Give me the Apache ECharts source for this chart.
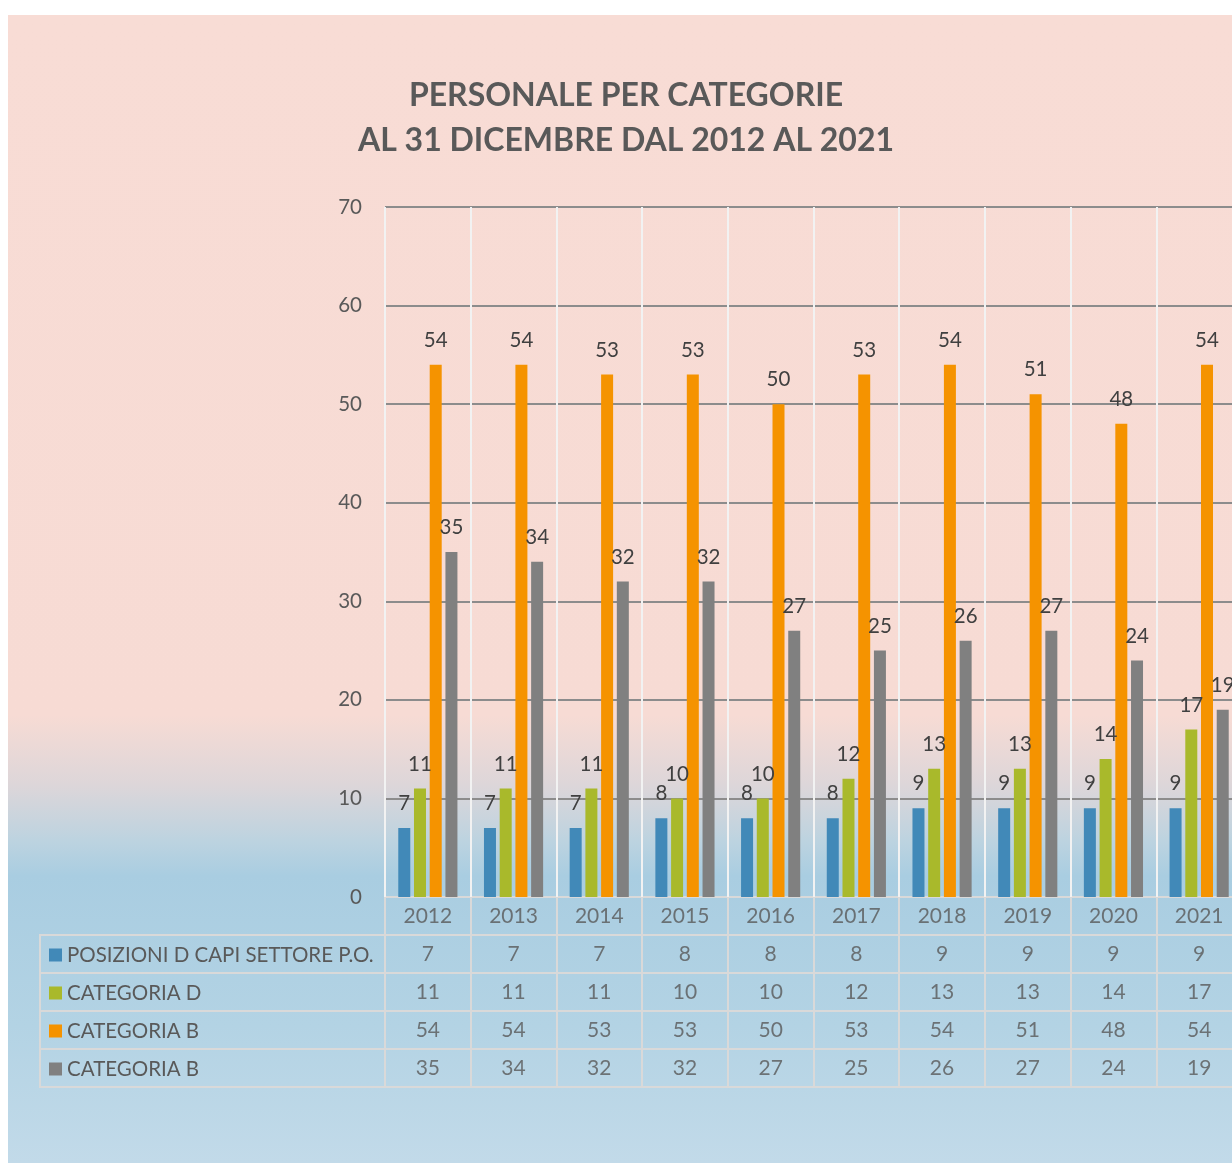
<!DOCTYPE html>
<html>
<head>
<meta charset="utf-8">
<script src="https://cdn.jsdelivr.net/npm/echarts@6/dist/echarts.min.js"></script>
<style>
  html, body { margin: 0; padding: 0; background: #ffffff; }
  #wrap { position: relative; width: 1232px; height: 1163px; overflow: hidden; }
  #panel {
    position: absolute; left: 8px; top: 15px; right: 0; bottom: 0;
    background: linear-gradient(to bottom, #f8dcd5 0%, #f7dbd4 61%, #ddd6d9 67%, #bcd3e0 72%, #a9cde1 75%, #b3d3e4 88%, #c2dae9 100%);
  }
  #chart { position: absolute; left: 0; top: 0; width: 1232px; height: 1163px; }
</style>
</head>
<body>
<div id="wrap">
  <div id="panel"></div>
  <div id="chart"></div>
</div>
<script>
// dati
var anni = ['2012', '2013', '2014', '2015', '2016', '2017', '2018', '2019', '2020', '2021']
var nomiSerie = ['POSIZIONI D CAPI SETTORE P.O.', 'CATEGORIA D', 'CATEGORIA B', 'CATEGORIA B ']
var posizioniD = [7, 7, 7, 8, 8, 8, 9, 9, 9, 9]
var categoriaD = [11, 11, 11, 10, 10, 12, 13, 13, 14, 17]
var categoriaB = [54, 54, 53, 53, 50, 53, 54, 51, 48, 54]
var categoriaB2 = [35, 34, 32, 32, 27, 25, 26, 27, 24, 19]
var colori = ['#4189b8', '#a9b92b', '#f59300', '#808080']
var righeTabella = ['anno', 'r1', 'r2', 'r3', 'r4']

var valori = [posizioniD, categoriaD, categoriaB, categoriaB2]
var font = 'Lato, "Open Sans", sans-serif'
var grigio = '#595959'

var chart = echarts.init(document.getElementById('chart'))

// celle della tabella dati (anni + valori)
var celle = []
anni.forEach(function (a, i) {
  celle.push([i, 0, a])
  valori.forEach(function (serie, s) {
    celle.push([i, s + 1, String(serie[i])])
  })
})

var barre = valori.map(function (serie, s) {
  return {
    name: nomiSerie[s],
    type: 'bar',
    xAxisIndex: 0,
    yAxisIndex: 0,
    barWidth: 12,
    barGap: '31%',
    itemStyle: { color: colori[s] },
    label: {
      show: true,
      position: 'top',
      distance: 14,
      color: '#404040',
      fontSize: 20.5,
      fontFamily: font
    },
    data: serie
  }
})

chart.setOption({
  textStyle: { fontFamily: font },
  title: {
    text: 'PERSONALE PER CATEGORIE\nAL 31 DICEMBRE DAL 2012 AL 2021',
    left: 621,
    textAlign: 'center',
    top: 68,
    textStyle: {
      color: grigio,
      fontSize: 32,
      fontWeight: 'bold',
      lineHeight: 45,
      fontFamily: font
    }
  },
  legend: {
    orient: 'vertical',
    left: 49,
    top: 943,
    padding: 0,
    icon: 'rect',
    itemWidth: 13,
    itemHeight: 13,
    itemGap: 14,
    selectedMode: false,
    data: nomiSerie,
    textStyle: { color: grigio, fontSize: 20.5, lineHeight: 24, fontFamily: font }
  },
  grid: [
    { left: 385, top: 207, width: 857, height: 690, outerBoundsMode: 'none' },
    { left: 385, top: 897, width: 857, height: 190, outerBoundsMode: 'none', show: true, borderColor: '#d9d9d9', borderWidth: 2 },
    { left: 40, top: 935, width: 345, height: 152, outerBoundsMode: 'none', show: true, borderColor: '#d9d9d9', borderWidth: 2 }
  ],
  xAxis: [
    {
      gridIndex: 0,
      type: 'category',
      data: anni,
      axisLine: { show: false },
      axisTick: { show: false },
      axisLabel: { show: false },
      splitLine: { show: true, lineStyle: { color: '#f2f2f2', width: 2 } }
    },
    {
      gridIndex: 1,
      type: 'category',
      data: anni,
      axisLine: { show: false },
      axisTick: { show: false },
      axisLabel: { show: false },
      splitLine: { show: true, lineStyle: { color: '#d9d9d9', width: 2 } }
    },
    {
      gridIndex: 2,
      type: 'value',
      show: false
    }
  ],
  yAxis: [
    {
      gridIndex: 0,
      type: 'value',
      min: 0,
      max: 70,
      interval: 10,
      axisLine: { show: false },
      axisTick: { show: false },
      axisLabel: { color: grigio, fontSize: 20.5, margin: 23, fontFamily: font },
      splitLine: { show: true, showMinLine: false, lineStyle: { color: '#8c8c8c', width: 2 } }
    },
    {
      gridIndex: 1,
      type: 'category',
      inverse: true,
      data: righeTabella,
      axisLine: { show: false },
      axisTick: { show: false },
      axisLabel: { show: false },
      splitLine: { show: true, lineStyle: { color: '#d9d9d9', width: 2 } }
    },
    {
      gridIndex: 2,
      type: 'category',
      inverse: true,
      data: righeTabella.slice(1),
      axisLine: { show: false },
      axisTick: { show: false },
      axisLabel: { show: false },
      splitLine: { show: true, lineStyle: { color: '#d9d9d9', width: 2 } }
    }
  ],
  series: barre.concat([
    {
      name: 'tabella',
      type: 'scatter',
      xAxisIndex: 1,
      yAxisIndex: 1,
      symbolSize: 1,
      silent: true,
      itemStyle: { color: 'rgba(0,0,0,0)' },
      label: {
        show: true,
        position: 'inside',
        color: grigio,
        fontSize: 21,
        fontFamily: font,
        formatter: function (p) { return p.data[2] }
      },
      data: celle
    }
  ])
})
</script>
</body>
</html>
